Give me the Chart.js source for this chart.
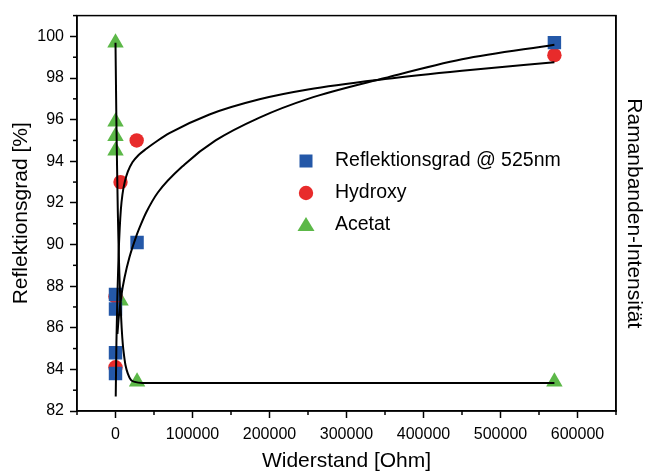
<!DOCTYPE html>
<html>
<head>
<meta charset="utf-8">
<script src="https://cdn.jsdelivr.net/npm/chart.js"></script>
<style>
  html, body { margin: 0; padding: 0; background: #fff; }
</style>
</head>
<body>
<canvas id="myChart" width="648" height="472"></canvas>
<script>
// measured points
const reflX = [0, 0, 0, 0, 28000, 570000];
const reflY = [83.8, 84.8, 86.9, 87.6, 90.1, 99.7];
const hydroxyX = [0, 0, 6500, 27500, 570000];
const hydroxyY = [84.1, 87.5, 93.0, 95.0, 99.1];
const acetatX = [0, 0, 0, 0, 6500, 28000, 570000];
const acetatY = [99.7, 95.9, 95.2, 94.5, 87.3, 83.4, 83.4];

// fit curves
const reflFitX = [2500, 4500, 7400, 11700, 18200, 27000, 33400, 40000, 55000, 89700, 130000, 187000, 250000, 350000, 450000, 570000];
const reflFitY = [85.7, 86.6, 87.5, 88.4, 89.4, 90.4, 91.0, 91.55, 92.5, 93.85, 95.0, 96.1, 97.0, 98.0, 98.9, 99.6];
const hydroxyFitX = [300, 1200, 2500, 4000, 5500, 7000, 9000, 12000, 16000, 22000, 30000, 40000, 55000, 70000, 122000, 187000, 250000, 350000, 450000, 570000];
const hydroxyFitY = [82.7, 85.3, 87.6, 89.5, 90.8, 91.7, 92.4, 93.0, 93.5, 93.95, 94.3, 94.6, 95.0, 95.35, 96.25, 96.98, 97.45, 97.95, 98.35, 98.76];
const acetatFitX = [0, 1000, 2000, 3000, 4000, 5000, 6500, 8000, 9500, 11000, 13000, 16000, 20000, 25000, 35000, 570000];
const acetatFitY = [99.7, 96.4, 93.8, 91.6, 89.9, 88.6, 87.1, 86.0, 85.2, 84.7, 84.2, 83.8, 83.5, 83.4, 83.35, 83.35];

// ticks
const xTicks = [0, 100000, 200000, 300000, 400000, 500000, 600000];
const xMinor = [-50000, 50000, 150000, 250000, 350000, 450000, 550000, 650000];
const yTicks = [82, 84, 86, 88, 90, 92, 94, 96, 98, 100];
const yMinor = [83, 85, 87, 89, 91, 93, 95, 97, 99, 101];

const legendNames = ["Reflektionsgrad @ 525nm", "Hydroxy", "Acetat"];

const blue = '#2458a8';
const red = '#e82b2b';
const green = '#5cb848';
const fontFam = "'Liberation Sans', Arial, sans-serif";

function pts(xs, ys) {
  return xs.map((v, i) => ({ x: v, y: ys[i] }));
}

const boxPlugin = {
  id: 'box',
  afterDraw(chart) {
    const ctx = chart.ctx;
    const a = chart.chartArea;
    const x = chart.scales.x;
    const y = chart.scales.y;
    ctx.save();
    ctx.strokeStyle = '#000';
    ctx.lineWidth = 1.5;
    ctx.strokeRect(a.left, a.top, a.right - a.left, a.bottom - a.top);
    xMinor.forEach(v => {
      const px = x.getPixelForValue(v);
      ctx.beginPath();
      ctx.moveTo(px, a.bottom);
      ctx.lineTo(px, a.bottom + 4);
      ctx.stroke();
    });
    yMinor.forEach(v => {
      const py = y.getPixelForValue(v);
      ctx.beginPath();
      ctx.moveTo(a.left, py);
      ctx.lineTo(a.left - 4, py);
      ctx.stroke();
    });

    // legend
    const lx = 306, tx = 335;
    const rows = [161, 193, 225];
    ctx.fillStyle = blue;
    ctx.fillRect(lx - 6.5, rows[0] - 6.5, 13, 13);
    ctx.fillStyle = red;
    ctx.beginPath();
    ctx.arc(lx, rows[1], 7.2, 0, Math.PI * 2);
    ctx.fill();
    ctx.fillStyle = green;
    ctx.beginPath();
    ctx.moveTo(lx, rows[2] - 8);
    ctx.lineTo(lx + 8.5, rows[2] + 6);
    ctx.lineTo(lx - 8.5, rows[2] + 6);
    ctx.closePath();
    ctx.fill();
    ctx.fillStyle = '#000';
    ctx.font = '19.5px ' + fontFam;
    ctx.textBaseline = 'middle';
    legendNames.forEach((t, i) => ctx.fillText(t, tx, rows[i]));
    ctx.restore();
  }
};

const fitStyle = {
  showLine: true,
  pointRadius: 0,
  borderColor: '#000',
  borderWidth: 2,
  cubicInterpolationMode: 'monotone',
  fill: false
};

new Chart(document.getElementById('myChart'), {
  type: 'scatter',
  data: {
    datasets: [
      Object.assign({ label: 'fit1', data: pts(reflFitX, reflFitY) }, fitStyle),
      Object.assign({ label: 'fit2', data: pts(hydroxyFitX, hydroxyFitY) }, fitStyle),
      Object.assign({ label: 'fit3', data: pts(acetatFitX, acetatFitY) }, fitStyle),
      { label: legendNames[0], data: pts(reflX, reflY), pointStyle: 'rect', pointRadius: 9.5, backgroundColor: blue, borderWidth: 0 },
      { label: legendNames[1], data: pts(hydroxyX, hydroxyY), pointStyle: 'circle', pointRadius: 7.2, backgroundColor: red, borderWidth: 0 },
      { label: legendNames[2], data: pts(acetatX, acetatY), pointStyle: 'triangle', pointRadius: 9.5, backgroundColor: green, borderWidth: 0 }
    ]
  },
  options: {
    responsive: false,
    animation: false,
    layout: { padding: { top: 7, left: 0, right: 0, bottom: 0 } },
    plugins: { legend: { display: false }, tooltip: { enabled: false } },
    scales: {
      x: {
        type: 'linear',
        position: 'bottom',
        min: -50000,
        max: 650000,
        afterBuildTicks: ax => { ax.ticks = xTicks.map(v => ({ value: v })); },
        afterFit: ax => { ax.height = 61; },
        grid: { display: true, drawOnChartArea: false, drawTicks: true, tickLength: 7, tickColor: '#000', tickWidth: 1.5 },
        border: { display: true, color: '#000', width: 1.5 },
        ticks: { color: '#000', font: { family: fontFam, size: 16 }, padding: 7, maxRotation: 0, autoSkip: false, callback: v => String(v) },
        title: { display: true, text: 'Widerstand [Ohm]', color: '#000', font: { family: fontFam, size: 21, lineHeight: 1 }, padding: 0 }
      },
      y: {
        type: 'linear',
        position: 'left',
        min: 82,
        max: 101,
        afterBuildTicks: ax => { ax.ticks = yTicks.map(v => ({ value: v })); },
        afterFit: ax => { ax.width = 77; },
        grid: { display: true, drawOnChartArea: false, drawTicks: true, tickLength: 7, tickColor: '#000', tickWidth: 1.5 },
        border: { display: true, color: '#000', width: 1.5 },
        ticks: { color: '#000', font: { family: fontFam, size: 16 }, padding: 6, autoSkip: false, callback: v => String(v) },
        title: { display: true, text: 'Reflektionsgrad [%]', color: '#000', font: { family: fontFam, size: 21, lineHeight: 1 }, padding: { top: 11, bottom: 0 } }
      },
      y2: {
        type: 'linear',
        position: 'right',
        min: 0,
        max: 1,
        afterFit: ax => { ax.width = 32; },
        grid: { display: false },
        border: { display: true, color: '#000', width: 1.5 },
        ticks: { display: false },
        title: { display: true, text: 'Ramanbanden-Intensität', color: '#000', font: { family: fontFam, size: 21, lineHeight: 1 }, padding: { top: 4, bottom: 0 } }
      }
    }
  },
  plugins: [boxPlugin]
});
</script>
</body>
</html>
